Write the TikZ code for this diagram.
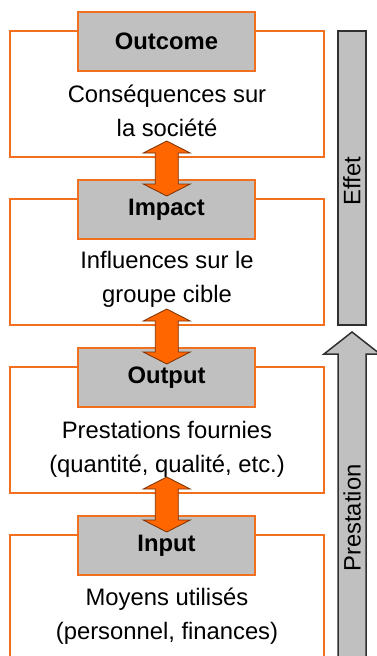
\documentclass[tikz,border=0pt]{standalone}
\usepackage{fontspec}
\setmainfont{Liberation Sans}
\usetikzlibrary{calc}
\definecolor{boxorange}{HTML}{F07020}
\definecolor{arroworange}{HTML}{FF6600}
\definecolor{arrowedge}{HTML}{7A3000}
\definecolor{hdrgray}{HTML}{C0C0C0}
\definecolor{bargray}{HTML}{C0C0C0}
\definecolor{baredge}{HTML}{303030}
\begin{document}
\begin{tikzpicture}[x=1pt,y=-1pt,
  outerbox/.style={draw=boxorange, line width=1.3pt, fill=white, minimum width=314pt, minimum height=126pt, inner sep=0pt},
  header/.style={draw=boxorange, line width=1.3pt, fill=hdrgray, minimum width=177pt, minimum height=59pt, inner sep=0pt, font=\bfseries\fontsize{23.8}{27}\selectfont},
  bodytext/.style={align=center, inner sep=0pt, font=\fontsize{23.8}{34}\selectfont},
  dblarrow/.style={fill=arroworange, draw=arrowedge, line width=0.8pt, line join=miter},
  grayarrow/.style={fill=bargray, draw=baredge, line width=1.5pt, line join=miter},
  sidetext/.style={rotate=90, inner sep=0pt, font=\fontsize{23.8}{27}\selectfont}]
\useasboundingbox (0,0) rectangle (377,656);
\clip (0,0) rectangle (377,656);
\fill[white] (0,0) rectangle (377,656);

% outer boxes
\node[outerbox] (o1) at (167,94) {};
\node[outerbox] (o2) at (167,262) {};
\node[outerbox] (o3) at (167,430) {};
\node[outerbox] (o4) at (167,598) {};

% headers
\node[header] (h1) at (166.5,41.5) {Outcome};
\node[header] (h2) at (166.5,209.5) {Impact};
\node[header] (h3) at (166.5,377.5) {Output};
\node[header] (h4) at (166.5,545.5) {Input};

% body texts
\node[bodytext] (t1) at (167,111) {Conséquences sur\\la société};
\node[bodytext] (t2) at (167,279) {Influences sur le\\groupe cible};
\node[bodytext] (t3) at (167,449) {Prestations fournies\\(quantité, qualité, etc.)};
\node[bodytext] (t4) at (167,616) {Moyens utilisés\\(personnel, finances)};

% double arrows between levels
\foreach \a/\b in {o1/h2,o2/h3,o3/h4}{
  \begin{scope}[shift={($(\a.south)!0.5!(\b.north)$)}]
    \draw[dblarrow] (-11.5,-15.5) -- (-23.5,-15.5) -- (0,-27.5) -- (23.5,-15.5) -- (11.5,-15.5)
      -- (11.5,15.5) -- (23.5,15.5) -- (0,27.5) -- (-23.5,15.5) -- (-11.5,15.5) -- cycle;
  \end{scope}
}

% Effet bar
\node[grayarrow, minimum width=28pt, minimum height=294pt, inner sep=0pt] (effet) at (352,178) {};
\node[sidetext] (effetlbl) at (352,181) {Effet};

% Prestation arrow
\coordinate (ptip) at (352,332);
\draw[grayarrow] (338,700) -- (338,354) -- (324,354) -- (ptip) -- (380,354) -- (366,354) -- (366,700);
\node[sidetext] (prestlbl) at (352,518) {Prestation};
\end{tikzpicture}
\end{document}
